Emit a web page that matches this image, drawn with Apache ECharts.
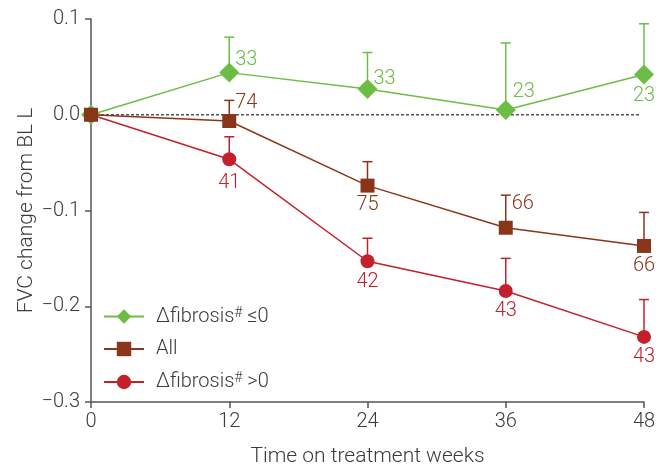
<!DOCTYPE html>
<html>
<head>
<meta charset="utf-8">
<script src="https://cdn.jsdelivr.net/npm/echarts@6/dist/echarts.min.js"></script>
<style>
html,body{margin:0;padding:0;background:#fff;}
#chart{width:663px;height:467px;}
</style>
</head>
<body>
<div id="chart"></div>
<script>
// ---- data ----
const weeks = [0, 12, 24, 36, 48];
const xTicks = [0, 12, 24, 36, 48];
const yTicks = [-0.3, -0.2, -0.1, 0.0, 0.1];

const fibNeg      = [0, 0.044, 0.027, 0.005, 0.042];
const fibNegUpper = [null, 0.081, 0.065, 0.075, 0.095];
const fibNegN     = [null, 33, 33, 23, 23];

const allPts      = [0, -0.0065, -0.074, -0.118, -0.137];
const allUpper    = [null, 0.015, -0.049, -0.084, -0.102];
const allN        = [null, 74, 75, 66, 66];

const fibPos      = [0, -0.0465, -0.153, -0.184, -0.232];
const fibPosUpper = [null, -0.023, -0.129, -0.150, -0.193];
const fibPosN     = [null, 41, 42, 43, 43];

const names = ['Δfibrosis# ≤0', 'All', 'Δfibrosis# >0'];

// ---- styling (not data) ----
const FONT = "Roboto,'Noto Sans',sans-serif";
const GREEN = '#6cbd45', BROWN = '#8a3519', RED = '#c4202b';
const TXT = '#3a3a3a';
const labelOffsets = {
  green: [null, [17, -13], [17, -10], [18, -18], [0, 21]],
  brown: [null, [17, -18], [0, 19], [17, -24], [0, 20]],
  red:   [null, [0, 24], [0, 21], [0, 20], [0, 20]]
};

function lineData(vals, ns, offs, color) {
  return weeks.map((w, i) => {
    const d = { value: [w, vals[i]] };
    if (ns[i] != null) {
      d.label = {
        show: true, formatter: String(ns[i]), position: 'inside',
        offset: offs[i], color: color, fontSize: 20, fontFamily: FONT, fontWeight: 300,
        align: 'center', verticalAlign: 'middle'
      };
    }
    return d;
  });
}
function errData(vals, uppers) {
  const out = [];
  weeks.forEach((w, i) => { if (uppers[i] != null) out.push([w, vals[i], uppers[i]]); });
  return out;
}
function errSeries(vals, uppers, color) {
  return {
    type: 'custom', silent: true, z: 1,
    data: errData(vals, uppers),
    renderItem(params, api) {
      const x = api.value(0);
      const p0 = api.coord([x, api.value(1)]);
      const p1 = api.coord([x, api.value(2)]);
      const hw = 5;
      return { type: 'group', children: [
        { type: 'line', shape: { x1: p0[0], y1: p0[1], x2: p1[0], y2: p1[1] }, style: { stroke: color, lineWidth: 1.5 } },
        { type: 'line', shape: { x1: p1[0] - hw, y1: p1[1], x2: p1[0] + hw, y2: p1[1] }, style: { stroke: color, lineWidth: 1.5 } }
      ]};
    }
  };
}

const legendRich = {
  sup: { fontSize: 14, verticalAlign: 'top', padding: [0, 0, 7, 0], fontFamily: FONT, fontWeight: 300, color: TXT }
};

const chart = echarts.init(document.getElementById('chart'), null, { renderer: 'canvas' });
chart.setOption({
  animation: false,
  backgroundColor: '#fff',
  textStyle: { fontFamily: FONT },
  grid: { left: 91, right: 19, top: 19, bottom: 65, containLabel: false, outerBoundsMode: 'none' },
  legend: {
    data: names,
    orient: 'vertical',
    left: 103, top: 306, padding: 0,
    itemWidth: 40, itemHeight: 18, itemGap: 12.5,
    textStyle: { fontSize: 20, color: TXT, fontFamily: FONT, fontWeight: 300, padding: [0, 0, 0, 7], rich: legendRich },
    formatter: (n) => n.replace('#', '{sup|#}'),
    selectedMode: false
  },
  xAxis: {
    type: 'value', min: xTicks[0], max: xTicks[xTicks.length - 1], interval: 12,
    name: 'Time on treatment weeks', nameLocation: 'middle', nameGap: 44, nameMoveOverlap: false,
    nameTextStyle: { fontSize: 21, color: TXT, fontFamily: FONT, fontWeight: 300 },
    axisLine: { show: true, onZero: false, lineStyle: { color: '#555', width: 1.5 } },
    axisTick: { show: true, inside: false, length: 6, lineStyle: { color: '#555', width: 1.5 } },
    axisLabel: { fontSize: 20, color: TXT, margin: 10, fontFamily: FONT, fontWeight: 300 },
    splitLine: { show: false }
  },
  yAxis: {
    type: 'value', min: yTicks[0], max: yTicks[yTicks.length - 1], interval: 0.1,
    name: 'FVC change from BL L', nameLocation: 'middle', nameGap: 54, nameRotate: 90, nameMoveOverlap: false,
    nameTextStyle: { fontSize: 21, color: TXT, fontFamily: FONT, fontWeight: 300 },
    axisLine: { show: true, onZero: false, lineStyle: { color: '#555', width: 1.5 } },
    axisTick: { show: true, inside: false, length: 6, lineStyle: { color: '#555', width: 1.5 } },
    axisLabel: {
      fontSize: 20, color: TXT, margin: 11, fontFamily: FONT, fontWeight: 300,
      formatter: (v) => { const r = Math.round(v * 10) / 10; return (r < 0 ? '\u2212' : '') + Math.abs(r).toFixed(1); }
    },
    splitLine: { show: false }
  },
  series: [
    {
      type: 'line', silent: true, z: 0, symbol: 'none',
      data: [[weeks[0], 0], [weeks[weeks.length - 1] - 0.3, 0]],
      lineStyle: { color: '#555', width: 1.5, type: [3, 2] }
    },
    errSeries(fibNeg, fibNegUpper, GREEN),
    errSeries(allPts, allUpper, BROWN),
    errSeries(fibPos, fibPosUpper, RED),
    {
      name: names[0], type: 'line', z: 3, clip: false,
      symbol: 'diamond', symbolSize: [20, 20],
      itemStyle: { color: GREEN }, lineStyle: { color: GREEN, width: 1.5 },
      data: lineData(fibNeg, fibNegN, labelOffsets.green, GREEN)
    },
    {
      name: names[2], type: 'line', z: 3, clip: false,
      symbol: 'circle', symbolSize: 14,
      itemStyle: { color: RED }, lineStyle: { color: RED, width: 1.5 },
      data: lineData(fibPos, fibPosN, labelOffsets.red, RED)
    },
    {
      name: names[1], type: 'line', z: 4, clip: false,
      symbol: 'rect', symbolSize: 14,
      itemStyle: { color: BROWN }, lineStyle: { color: BROWN, width: 1.5 },
      data: lineData(allPts, allN, labelOffsets.brown, BROWN)
    }
  ]
});
</script>
</body>
</html>
